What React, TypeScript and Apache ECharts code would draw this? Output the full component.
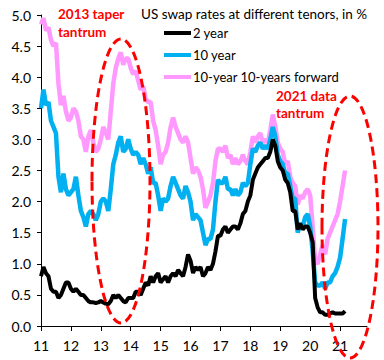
import React, { useEffect, useRef } from "react";
import * as echarts from "echarts";

// Monthly observations, January 2011 onward (x axis in two-digit years)
const startYear = 11;
const seriesNames = ["2 year", "10 year", "10-year 10-years forward"];

const twoYear = [
  0.8, 0.95, 0.85, 0.8, 0.6, 0.55, 0.55, 0.45, 0.5, 0.6, 0.7, 0.7,
  0.6, 0.55, 0.6, 0.55, 0.5, 0.5, 0.45, 0.4, 0.38, 0.38, 0.37, 0.38,
  0.4, 0.38, 0.36, 0.35, 0.4, 0.5, 0.45, 0.5, 0.45, 0.4, 0.38, 0.45,
  0.45, 0.45, 0.55, 0.55, 0.5, 0.6, 0.7, 0.65, 0.8, 0.7, 0.8, 0.85,
  0.7, 0.75, 0.8, 0.7, 0.8, 0.85, 0.8, 0.9, 0.85, 0.8, 0.95, 1.15,
  1.05, 0.85, 0.95, 0.9, 0.95, 0.8, 0.85, 0.95, 0.9, 1.0, 1.2, 1.45,
  1.45, 1.55, 1.6, 1.5, 1.55, 1.6, 1.6, 1.55, 1.65, 1.8, 1.85, 2.0,
  2.1, 2.35, 2.45, 2.55, 2.6, 2.65, 2.7, 2.7, 2.8, 3.0, 2.9, 2.65,
  2.55, 2.5, 2.35, 2.3, 2.15, 1.85, 1.85, 1.55, 1.65, 1.55, 1.6, 1.6,
  1.5, 1.35, 0.45, 0.3, 0.22, 0.22, 0.18, 0.18, 0.2, 0.22, 0.2, 0.2,
  0.2, 0.2, 0.24,
];

const tenYear = [
  3.5, 3.8, 3.55, 3.6, 3.3, 3.2, 3.1, 2.4, 2.15, 2.45, 2.2, 2.1,
  2.15, 2.2, 2.4, 2.1, 1.85, 1.75, 1.6, 1.8, 1.85, 1.8, 1.7, 1.8,
  2.0, 2.05, 2.0, 1.85, 2.2, 2.6, 2.75, 2.95, 3.05, 2.8, 2.85, 3.0,
  2.85, 2.75, 2.8, 2.75, 2.6, 2.7, 2.6, 2.45, 2.55, 2.3, 2.3, 2.1,
  1.85, 2.05, 2.0, 2.05, 2.25, 2.4, 2.3, 2.2, 2.1, 2.05, 2.25, 2.15,
  2.0, 1.7, 1.8, 1.75, 1.7, 1.5, 1.3, 1.4, 1.4, 1.55, 2.0, 2.35,
  2.3, 2.3, 2.4, 2.2, 2.2, 2.1, 2.2, 2.1, 2.15, 2.3, 2.25, 2.3,
  2.6, 2.85, 2.8, 2.9, 2.95, 2.85, 2.9, 2.85, 3.0, 3.2, 3.05, 2.75,
  2.65, 2.6, 2.45, 2.45, 2.25, 2.05, 2.05, 1.5, 1.65, 1.6, 1.75, 1.8,
  1.6, 1.2, 0.7, 0.65, 0.65, 0.7, 0.6, 0.7, 0.7, 0.8, 0.85, 0.95,
  1.1, 1.4, 1.72,
];

const fwd10y10y = [
  4.85, 4.95, 4.75, 4.8, 4.6, 4.5, 4.55, 3.9, 3.55, 3.7, 3.45, 3.3,
  3.35, 3.5, 3.45, 3.3, 3.05, 3.0, 2.8, 3.05, 3.15, 2.95, 2.8, 2.85,
  3.0, 3.2, 3.1, 3.0, 3.45, 3.9, 4.15, 4.3, 4.4, 4.2, 4.3, 4.3,
  4.15, 4.05, 4.1, 3.95, 3.8, 3.85, 3.65, 3.6, 3.6, 3.3, 3.15, 2.9,
  2.6, 2.75, 2.8, 2.95, 3.2, 3.35, 3.2, 3.1, 3.0, 2.95, 3.05, 2.95,
  2.7, 2.45, 2.55, 2.5, 2.4, 2.2, 1.9, 2.0, 2.1, 2.3, 2.65, 2.85,
  2.85, 2.8, 2.9, 2.7, 2.75, 2.6, 2.7, 2.6, 2.65, 2.75, 2.65, 2.6,
  2.8, 3.05, 2.95, 3.05, 3.1, 2.95, 3.0, 2.95, 3.15, 3.4, 3.2, 2.95,
  2.85, 2.8, 2.6, 2.65, 2.4, 2.3, 2.25, 1.95, 2.1, 2.05, 2.15, 2.2,
  2.1, 1.6, 1.05, 1.0, 1.15, 1.3, 1.15, 1.4, 1.5, 1.6, 1.7, 1.8,
  2.0, 2.25, 2.5,
];

const xTickValues = [11, 12, 13, 14, 15, 16, 17, 18, 19, 20, 21];
const xTickLabels = ["11", "12", "13", "14", "15", "16", "17", "18", "19", "20", "21"];

const FONT = "Lato, 'Liberation Sans', sans-serif";

export default function App() {
  const ref = useRef<HTMLDivElement>(null);
  useEffect(() => {
    const chart = echarts.init(ref.current!, null, { renderer: "svg" });
    const toPts = (arr: number[]) => arr.map((v, i) => [startYear + i / 12, v]);
    chart.setOption({
      animation: false,
      backgroundColor: "#ffffff",
      textStyle: { fontFamily: FONT },
      grid: { left: 41, right: 17, top: 15, bottom: 34 },
      xAxis: {
        type: "value",
        min: 11,
        max: 21.9,
        axisLine: { show: true, onZero: false, lineStyle: { color: "#000", width: 1 } },
        axisTick: { show: true, length: 5, lineStyle: { color: "#000" }, customValues: xTickValues },
        axisLabel: {
          customValues: xTickValues,
          formatter: (v: number) => xTickLabels[xTickValues.indexOf(Math.round(v))] ?? "",
          color: "#000",
          fontSize: 14,
          margin: 12,
          fontFamily: FONT,
        },
        splitLine: { show: false },
      },
      yAxis: {
        type: "value",
        min: 0,
        max: 5,
        interval: 0.5,
        axisLine: { show: true, lineStyle: { color: "#000", width: 1 } },
        axisTick: { show: true, length: 4, lineStyle: { color: "#000" } },
        axisLabel: {
          formatter: (v: number) => v.toFixed(1),
          color: "#000",
          fontSize: 14,
          margin: 10,
          fontFamily: FONT,
        },
        splitLine: { show: false },
      },
      legend: {
        data: seriesNames,
        orient: "vertical",
        left: 164,
        top: 25,
        padding: 0,
        icon: "rect",
        itemWidth: 27,
        itemHeight: 4,
        itemGap: 6,
        textStyle: { fontSize: 13, lineHeight: 16, color: "#000", fontFamily: FONT, padding: [0, 0, 0, -3] },
      },
      series: [
        {
          name: seriesNames[2],
          type: "line",
          data: toPts(fwd10y10y),
          showSymbol: false,
          lineStyle: { width: 4.5, color: "#FF99FF" },
          itemStyle: { color: "#FF99FF" },
          z: 2,
        },
        {
          name: seriesNames[1],
          type: "line",
          data: toPts(tenYear),
          showSymbol: false,
          lineStyle: { width: 4.5, color: "#00B0F0" },
          itemStyle: { color: "#00B0F0" },
          z: 3,
        },
        {
          name: seriesNames[0],
          type: "line",
          data: toPts(twoYear),
          showSymbol: false,
          lineStyle: { width: 4, color: "#000000" },
          itemStyle: { color: "#000000" },
          z: 4,
        },
      ],
      graphic: [
        {
          type: "text",
          left: 141,
          top: 7,
          style: { text: "US swap rates at different tenors, in %", fill: "#000", font: `13.5px ${FONT}` },
        },
        {
          type: "text",
          left: 58,
          top: 7,
          style: { text: "2013 taper", fill: "#FF0000", font: `bold 13.5px ${FONT}` },
        },
        {
          type: "text",
          left: 58,
          top: 25,
          style: { text: "tantrum", fill: "#FF0000", font: `bold 13.5px ${FONT}` },
        },
        {
          type: "text",
          left: 276,
          top: 89,
          style: { text: "2021 data", fill: "#FF0000", font: `bold 13.5px ${FONT}` },
        },
        {
          type: "text",
          left: 276,
          top: 106,
          style: { text: "tantrum", fill: "#FF0000", font: `bold 13.5px ${FONT}` },
        },
        {
          type: "ellipse",
          shape: { cx: 121, cy: 181, rx: 29, ry: 142 },
          style: { fill: "none", stroke: "#FF0000", lineWidth: 3, lineDash: [9, 5] },
          z: 100,
        },
        {
          type: "ellipse",
          shape: { cx: 350, cy: 227, rx: 28, ry: 131 },
          style: { fill: "none", stroke: "#FF0000", lineWidth: 3, lineDash: [9, 5] },
          z: 100,
        },
      ],
    });
    return () => chart.dispose();
  }, []);
  return <div ref={ref} style={{ position: "fixed", left: 0, top: 0, width: 384, height: 360 }} />;
}
